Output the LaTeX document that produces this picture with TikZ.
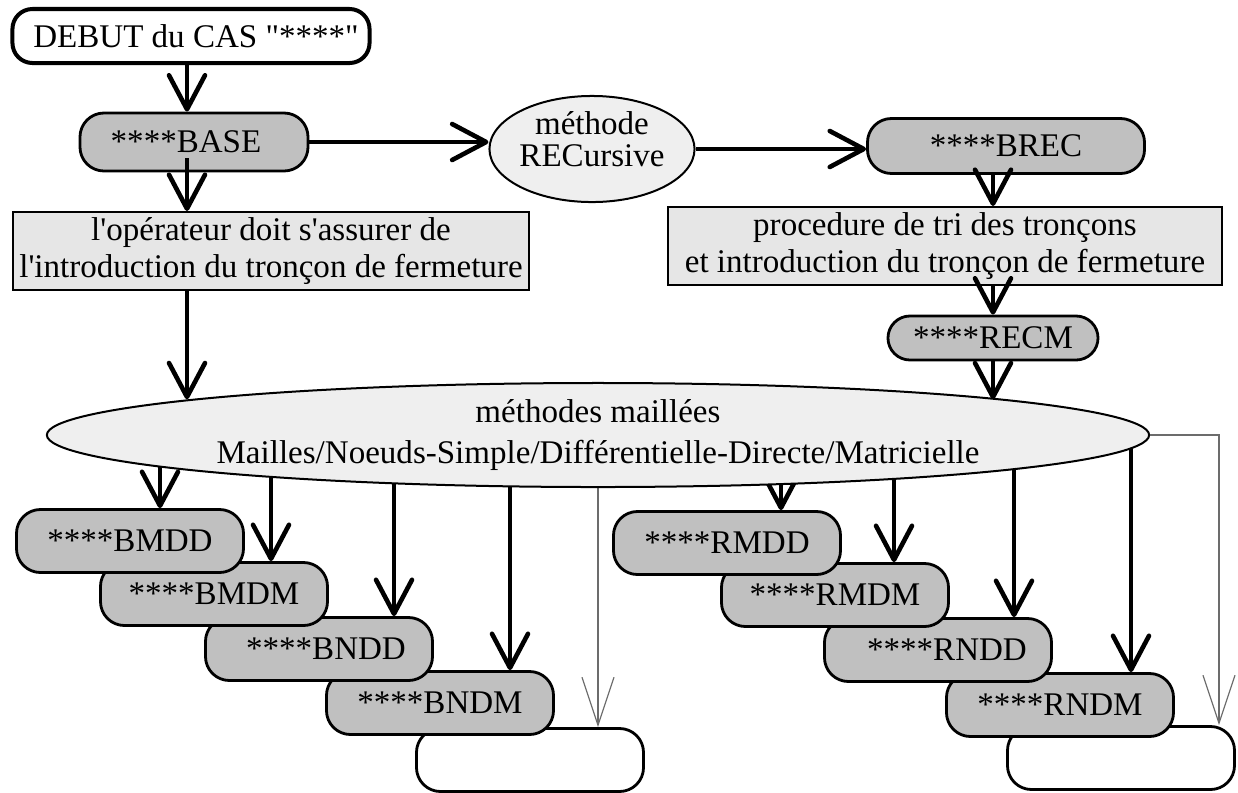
\documentclass[tikz,border=0pt]{standalone}
\usepackage{fontspec}
\setmainfont{Liberation Serif}[Ligatures=TeXOff]
\usetikzlibrary{arrows.meta,shapes.geometric,backgrounds,calc}
\definecolor{grisfonce}{HTML}{C0C0C0}
\definecolor{grisclair}{HTML}{E6E6E6}
\definecolor{grisellipse}{HTML}{EFEFEF}
\begin{document}
\begin{tikzpicture}[x=0.025cm,y=-0.025cm,
  font=\fontsize{23.5}{26}\selectfont,
  debutbox/.style={rectangle,draw,line width=0.1cm,rounded corners=0.5cm,fill=white,minimum width=8.925cm,minimum height=1.35cm,inner sep=0pt},
  prog/.style={rectangle,draw,line width=0.07cm,rounded corners=0.6cm,fill=grisfonce,minimum width=5.675cm,minimum height=1.575cm,inner sep=0pt},
  vide/.style={prog,fill=white},
  tache/.style={rectangle,draw,line width=0.05cm,fill=grisclair,minimum height=1.95cm,align=center,inner sep=0pt},
  meth/.style={ellipse,draw,line width=0.05cm,fill=grisellipse,align=center,inner sep=0pt},
  a/.style={-{Straight Barb[length=0.85cm,width=0.9cm,round]},line width=0.115cm},
  fin/.style={-{Straight Barb[length=1.2cm,width=0.8cm]},line width=0.03cm,draw=gray!85!black}]
  \useasboundingbox (0,0) rectangle (1238,792);
  % haut du schema
  \node[debutbox] (debut) at (191,36) {\hspace*{0.25cm}DEBUT du CAS "****"};
  \node[prog,minimum width=5.7cm,minimum height=1.45cm] (base) at (194,142) {****BASE\hspace*{0.4cm}};
  \node[meth,minimum width=4.775cm,minimum height=2.55cm] (recur) at (592,149) {méthode\\[-3pt]RECursive\\[-12pt]\mbox{}};
  \node[prog,minimum width=6.925cm,minimum height=1.375cm] (brec) at (1006,146) {****BREC};
  \node[tache,minimum width=13.825cm] (tri) at (945,246) {procedure de tri des tronçons\\ et introduction du tronçon de fermeture};
  \node[prog,minimum width=5.25cm,minimum height=1.1cm,rounded corners=0.55cm] (recm) at (993,338) {****RECM};
  \node[tache,minimum width=12.875cm] (oper) at (271,251) {l'opérateur doit s'assurer de\\l'introduction du tronçon de fermeture};
  \node[meth,minimum width=27.55cm,minimum height=2.6cm] (maill) at (598,435) {méthodes maillées\\[3pt]Mailles/Noeuds-Simple/Différentielle-Directe/Matricielle};
  % piles de programmes
  \node[vide] (bvide) at (530,760) {};
  \node[prog] (bndm) at (440,703) {****BNDM};
  \node[prog] (bndd) at (319,649) {\hspace*{0.35cm}****BNDD};
  \node[prog] (bmdm) at (214,594) {****BMDM};
  \node[prog] (bmdd) at (130,541) {****BMDD};
  \node[vide] (rvide) at (1121,758) {};
  \node[prog] (rndm) at (1060,705) {****RNDM};
  \node[prog] (rndd) at (938,650) {\hspace*{0.45cm}****RNDD};
  \node[prog] (rmdm) at (835,595) {****RMDM};
  \node[prog] (rmdd) at (727,543) {****RMDD};
  % fleches
  \coordinate (l0) at (187,0); \coordinate (r0) at (993,0);
  \coordinate (pb1) at (160,0); \coordinate (pb2) at (271,0);
  \coordinate (pb3) at (394,0); \coordinate (pb4) at (510,0);
  \coordinate (pr1) at (781,0); \coordinate (pr2) at (894,0);
  \coordinate (pr3) at (1014,0); \coordinate (pr4) at (1131,0);
  \coordinate (t1) at (598,0); \coordinate (t2) at (1219,0);
  \draw[a] (debut.south -| l0) -- (base.north -| l0);
  \draw[a] ([yshift=0.35cm]base.south -| l0) -- (oper.north -| l0);
  \draw[a] (oper.south -| l0) -- (l0 |- maill.175);
  \draw[a] (base.east) -- (base.east -| recur.west);
  \draw[a] (recur.east) -- (recur.east -| brec.west);
  \draw[a] (brec.south -| r0) -- (tri.north -| r0);
  \draw[a] (tri.south -| r0) -- (recm.north -| r0);
  \draw[a] (recm.south -| r0) -- (r0 |- maill.5);
  \draw[fin] (maill.east) -| (rvide.north -| t2);
  \begin{scope}[on background layer]
    \foreach \px/\cible in {pb1/bmdd,pb2/bmdm,pb3/bndd,pb4/bndm,pr1/rmdd,pr2/rmdm,pr3/rndd,pr4/rndm}
      \draw[a] (maill.center -| \px) -- (\cible.north -| \px);
    \draw[fin] (maill.center -| t1) -- (bvide.north -| t1);
  \end{scope}
\end{tikzpicture}
\end{document}
